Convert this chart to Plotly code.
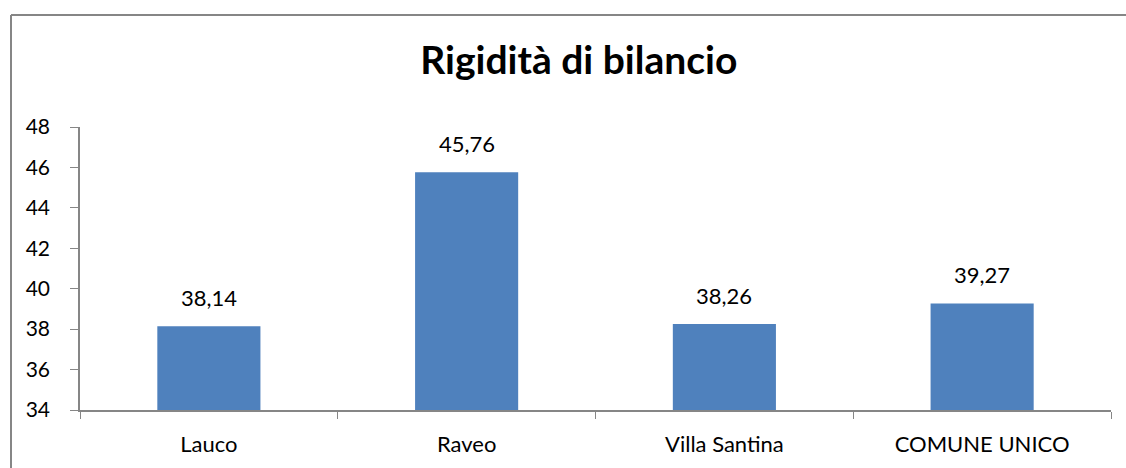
import plotly.graph_objects as go

categories = ["Lauco", "Raveo", "Villa Santina", "COMUNE UNICO"]
values = [38.14, 45.76, 38.26, 39.27]
y_ticks = [34, 36, 38, 40, 42, 44, 46, 48]

FONT = "Lato"
AXIS = "#868686"

fig = go.Figure()
fig.add_trace(go.Bar(
    x=categories, y=values,
    marker=dict(color="#4F81BD", line=dict(width=0)),
    hoverinfo="skip",
))

for c, v in zip(categories, values):
    fig.add_annotation(
        x=c, y=v, xref="x", yref="y",
        text=f"{v:.2f}".replace(".", ","),
        showarrow=False, yanchor="bottom", yshift=13,
        font=dict(family=FONT, size=22, color="#000000"),
    )

# outer chart border (left and top edges visible)
fig.add_shape(type="line", xref="paper", yref="paper",
              x0=-69/1031, x1=-69/1031, y0=1.396, y1=-0.3,
              line=dict(color="#868686", width=2))
fig.add_shape(type="line", xref="paper", yref="paper",
              x0=-69/1031, x1=1.1, y0=1.396, y1=1.396,
              line=dict(color="#868686", width=2))

fig.update_layout(
    width=1126, height=468,
    margin=dict(l=80, r=15, t=127, b=58),
    paper_bgcolor="white", plot_bgcolor="white",
    bargap=0.6,
    showlegend=False,
    title=dict(text="<b>Rigidità di bilancio</b>", x=0.514, xanchor="center",
               y=0.87, yanchor="middle",
               font=dict(family=FONT, size=39, color="#000000")),
    font=dict(family=FONT, size=22, color="#000000"),
)
fig.update_xaxes(
    showline=True, linecolor=AXIS, linewidth=1.5,
    ticks="outside", tickson="boundaries", ticklen=7, tickcolor=AXIS,
    showgrid=False, ticklabelstandoff=14,
    tickfont=dict(family=FONT, size=22, color="#000000"),
)
fig.update_yaxes(
    range=[34, 48], tickvals=y_ticks, ticktext=[str(t) for t in y_ticks],
    showline=True, linecolor=AXIS, linewidth=1.5,
    ticks="outside", ticklen=8, tickcolor=AXIS,
    showgrid=False, zeroline=False, ticklabelstandoff=16,
    tickfont=dict(family=FONT, size=21, color="#000000"),
)

fig.write_html(
    "out.html",
    config={"displayModeBar": False},
    post_script="document.body.style.margin='0';document.body.style.overflow='hidden';",
)
